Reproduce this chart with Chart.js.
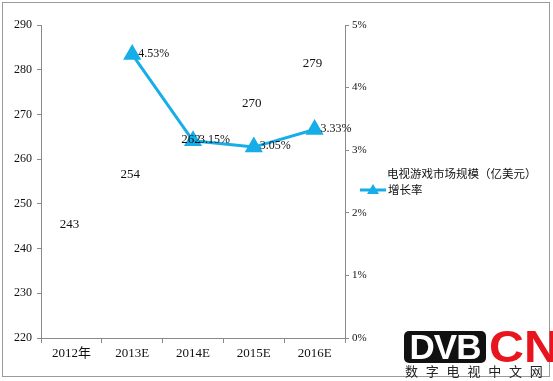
<!DOCTYPE html>
<html><head><meta charset="utf-8">
<script src="https://cdn.jsdelivr.net/npm/chart.js@4"></script>
<style>
html,body{margin:0;padding:0;background:#fff;}
#wrap{position:relative;width:553px;height:381px;}
canvas{position:absolute;left:0;top:0;}
#wm{position:absolute;left:404px;top:331px;width:149px;height:50px;overflow:hidden;}
#dvb{position:absolute;left:0;top:0;width:82px;height:32px;background:#111;border-radius:5px;color:#fff;font:bold 35px "Liberation Sans",Arial,sans-serif;line-height:32px;text-align:center;letter-spacing:-1px;}
#cn{position:absolute;left:85px;top:-1px;height:34px;color:#e8141e;font:bold 44px "Liberation Sans",Arial,sans-serif;line-height:34px;letter-spacing:0px;transform:scaleX(1.1);transform-origin:left top;}
#cnz{position:absolute;left:1px;top:33px;font:13px "Noto Sans CJK SC",sans-serif;color:#222;letter-spacing:7.8px;white-space:nowrap;line-height:14px;}
</style></head>
<body><div id="wrap"><canvas id="c" width="553" height="381"></canvas>
<div id="wm"><div id="dvb">DVB</div><div id="cn">CN</div><div id="cnz">数字电视中文网</div></div></div>
<script>
const categories = ["2012年","2013E","2014E","2015E","2016E"];
const marketSize = [243,254,262,270,279];
const growthRate = [null,4.53,3.15,3.05,3.33];
const seriesNames = ["电视游戏市场规模（亿美元）","增长率"];
const leftTicks = [220,230,240,250,260,270,280,290];
const rightTicks = [0,1,2,3,4,5];

const LINE = '#17ADE8';
const AXIS = '#8a8a8a';
const numFont = '"Liberation Serif","Noto Sans CJK SC",serif';

const framePlugin = {
  id:'frame',
  beforeDraw(chart){
    const c = chart.ctx;
    c.save();
    c.fillStyle='#fff'; c.fillRect(0,0,chart.width,chart.height);
    c.strokeStyle='#9a9a9a'; c.lineWidth=1;
    c.strokeRect(2.5,2.5,547,374);
    c.restore();
  }
};
const labelPlugin = {
  id:'labels',
  afterDatasetsDraw(chart){
    const c = chart.ctx;
    c.save();
    c.fillStyle='#111';
    c.font='13px '+numFont;
    c.textAlign='center'; c.textBaseline='middle';
    chart.getDatasetMeta(0).data.forEach((el,i)=>{
      c.fillText(String(marketSize[i]), el.x-2, el.y-11);
    });
    c.font='12px '+numFont;
    c.textAlign='left';
    chart.getDatasetMeta(1).data.forEach((el,i)=>{
      if(growthRate[i]==null) return;
      c.fillText(growthRate[i].toFixed(2)+'%', el.x+6, el.y-1);
    });
    // legend
    c.font='11.5px "Noto Sans CJK SC",sans-serif';
    c.fillStyle='#111';
    c.fillText(seriesNames[0], 387, 174);
    c.fillText(seriesNames[1], 388, 190);
    c.strokeStyle=LINE; c.lineWidth=3;
    c.beginPath(); c.moveTo(360,190); c.lineTo(386,190); c.stroke();
    c.fillStyle=LINE;
    c.beginPath(); c.moveTo(373,184); c.lineTo(379,194); c.lineTo(367,194); c.closePath(); c.fill();
    c.restore();
  }
};

new Chart(document.getElementById('c'), {
  data:{
    labels: categories,
    datasets:[
      {type:'bar', label:seriesNames[0], data:marketSize, yAxisID:'y', backgroundColor:'rgba(0,0,0,0)', borderWidth:0, order:2},
      {type:'line', label:seriesNames[1], data:growthRate, yAxisID:'y1', borderColor:LINE, backgroundColor:LINE, borderWidth:3,
       pointStyle:'triangle', pointRadius:7.5, pointHoverRadius:7.5, spanGaps:false, tension:0, order:1}
    ]
  },
  options:{
    responsive:false, animation:false, devicePixelRatio:1,
    layout:{padding:{left:0, top:25, right:178, bottom:13}},
    plugins:{legend:{display:false}, tooltip:{enabled:false}},
    scales:{
      x:{
        offset:true,
        grid:{offset:true, drawOnChartArea:false, tickLength:5, color:AXIS},
        border:{color:AXIS},
        ticks:{color:'#111', font:{family:numFont, size:13}, padding:3},
        afterFit(s){ s.height=30; }
      },
      y:{
        position:'left', min:220, max:290,
        afterBuildTicks(s){ s.ticks = leftTicks.map(v=>({value:v})); },
        grid:{drawOnChartArea:false, tickLength:4, color:AXIS},
        border:{color:AXIS},
        ticks:{color:'#111', font:{family:numFont, size:12}, padding:5},
        afterFit(s){ s.width=41; }
      },
      y1:{
        position:'right', min:0, max:5,
        afterBuildTicks(s){ s.ticks = rightTicks.map(v=>({value:v})); },
        grid:{drawOnChartArea:false, tickLength:4, color:AXIS},
        border:{color:AXIS},
        ticks:{color:'#111', font:{family:numFont, size:11}, padding:3, callback:v=>v+'%'},
        afterFit(s){ s.width=30; }
      }
    }
  },
  plugins:[framePlugin,labelPlugin]
});
</script></body></html>
